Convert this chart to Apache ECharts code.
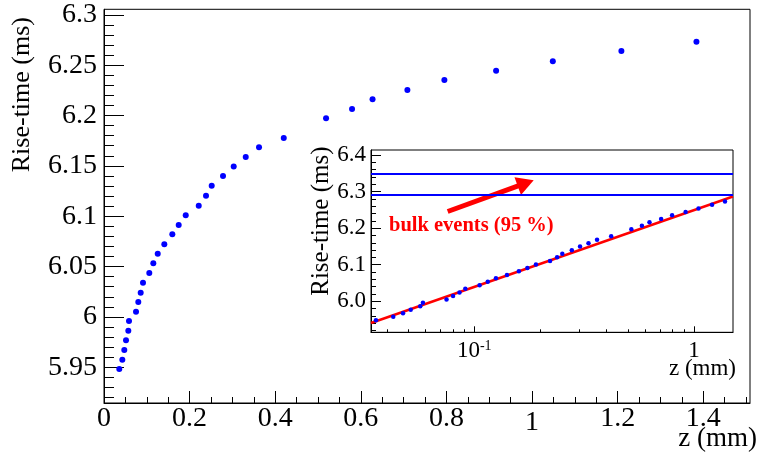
<!DOCTYPE html>
<html><head><meta charset="utf-8">
<script src="https://cdn.jsdelivr.net/npm/echarts@6/dist/echarts.min.js"></script>
<style>html,body{margin:0;padding:0;background:#fff}#c{width:758px;height:453px}</style>
</head><body><div id="c"></div>
<script>
// ---- data ----
const zValues = [0.0357,0.0428,0.0474,0.0514,0.0568,0.0584,0.0748,0.0801,0.0857,0.0911,0.1058,0.1152,0.1255,0.1409,0.1596,0.1745,0.1909,0.2213,0.2383,0.2516,0.2780,0.3030,0.3311,0.3621,0.4199,0.5187,0.5794,0.6273,0.7087,0.7951,0.9159,1.0484,1.2086,1.3839];
const riseTimes = [5.9483,5.9575,5.9672,5.9768,5.9863,5.9960,6.0052,6.0148,6.0240,6.0340,6.0436,6.0532,6.0628,6.0721,6.0820,6.0912,6.1009,6.1104,6.1203,6.1303,6.1399,6.1495,6.1587,6.1684,6.1776,6.1972,6.2064,6.2161,6.2253,6.2352,6.2444,6.2540,6.2640,6.2732];
const fitZ = [0.0339, 1.505];
const fitRise = [5.9405, 6.2866];
const bandLimits = [6.289, 6.354];
const arrowFrom = [0.0757, 6.2455];
const arrowTo = [0.1715, 6.323];
const annotationText = 'bulk events (95 %)';

const mainXTicks = [0,0.2,0.4,0.6,0.8,1,1.2,1.4];
const mainXMinorTicks = [0.05,0.1,0.15,0.25,0.3,0.35,0.45,0.5,0.55,0.65,0.7,0.75,0.85,0.9,0.95,1.05,1.1,1.15,1.25,1.3,1.35,1.45,1.5];
const mainYTicks = [5.95,6,6.05,6.1,6.15,6.2,6.25,6.3];
const mainYMinorTicks = [5.92,5.93,5.94,5.96,5.97,5.98,5.99,6.01,6.02,6.03,6.04,6.06,6.07,6.08,6.09,6.11,6.12,6.13,6.14,6.16,6.17,6.18,6.19,6.21,6.22,6.23,6.24,6.26,6.27,6.28,6.29];
const insetXTicks = [0.1, 1];
const insetXMinorTicks = [0.04,0.05,0.06,0.07,0.08,0.09,0.2,0.3,0.4,0.5,0.6,0.7,0.8,0.9];
const insetYTicks = [6.0,6.1,6.2,6.3,6.4];
const insetYMinorTicks = [5.92,5.94,5.96,5.98,6.02,6.04,6.06,6.08,6.12,6.14,6.16,6.18,6.22,6.24,6.26,6.28,6.32,6.34,6.36,6.38];

const mainXRange = [0, 1.509];
const mainYRange = [5.9145, 6.3055];
const insetXRange = [0.0339, 1.505];
const insetYRange = [5.9152, 6.4137];

// ---- styling ----
const serif = '"Liberation Serif", "Times New Roman", serif';
const black = '#000000';
const blue = '#0000ff';
const red = '#ff0000';

function axis(type, grid, range, pos, ticks, len, labels, labelOpt) {
  const a = {
    type: type, gridIndex: grid, min: range[0], max: range[1], position: pos,
    axisLine: {show: !!labels, onZero: false, lineStyle: {color: black, width: 1}},
    axisTick: {show: true, inside: true, length: len, customValues: ticks, lineStyle: {color: black, width: 1}},
    axisLabel: labels ? Object.assign({show: true, customValues: labels, color: black, fontFamily: serif}, labelOpt) : {show: false},
    splitLine: {show: false}, minorTick: {show: false}, silent: true
  };
  if (type === 'log') a.logBase = 10;
  return a;
}

const chart = echarts.init(document.getElementById('c'), null, {renderer: 'canvas'});
const option = {
  animation: false,
  backgroundColor: '#ffffff',
  grid: [
    {left: 104, right: 8, top: 9.3, bottom: 50, show: true, borderColor: black, borderWidth: 1, backgroundColor: 'transparent', containLabel: false, outerBoundsMode: 'none'},
    {left: 371, right: 25, top: 150, bottom: 120.7, show: true, borderColor: black, borderWidth: 1, backgroundColor: 'transparent', containLabel: false, outerBoundsMode: 'none'}
  ],
  xAxis: [
    axis('value', 0, mainXRange, 'bottom', mainXTicks, 12, mainXTicks, {
      fontSize: 28, margin: 2,
      formatter: v => (v === 1 ? '{o|1}' : String(v)),
      rich: {o: {fontSize: 28, fontFamily: serif, color: black, padding: [4, 0, 0, 0]}}
    }),
    axis('value', 0, mainXRange, 'bottom', mainXMinorTicks, 6, null),
    axis('log', 1, insetXRange, 'bottom', insetXTicks, 6, insetXTicks, {
      margin: 7,
      formatter: v => (Math.abs(v - 0.1) < 1e-9 ? '{b|10}{s|-1}' : '{b|1}'),
      rich: {
        b: {fontSize: 23, fontFamily: serif, color: black},
        s: {fontSize: 14, fontFamily: serif, color: black, verticalAlign: 'top'}
      }
    }),
    axis('log', 1, insetXRange, 'bottom', insetXMinorTicks, 3, null)
  ],
  yAxis: [
    axis('value', 0, mainYRange, 'left', mainYTicks, 20, mainYTicks, {fontSize: 28, margin: 7}),
    axis('value', 0, mainYRange, 'left', mainYMinorTicks, 10, null),
    axis('value', 1, insetYRange, 'left', insetYTicks, 10, insetYTicks, {fontSize: 23, margin: 5, formatter: v => v.toFixed(1)}),
    axis('value', 1, insetYRange, 'left', insetYMinorTicks, 5, null)
  ],
  series: [
    {
      name: 'main', type: 'scatter', xAxisIndex: 0, yAxisIndex: 0, silent: true,
      symbol: 'circle', symbolSize: 6, itemStyle: {color: blue, opacity: 1},
      data: zValues.map((z, i) => [z, riseTimes[i]]), z: 5
    },
    {
      name: 'fit', type: 'line', xAxisIndex: 2, yAxisIndex: 2, silent: true,
      showSymbol: false, symbol: 'none', clip: true,
      lineStyle: {color: red, width: 2.5, opacity: 1},
      data: fitZ.map((z, i) => [z, fitRise[i]]), z: 3,
      markLine: {
        silent: true, animation: false, label: {show: false},
        lineStyle: {color: red, width: 5, type: 'solid', opacity: 1},
        emphasis: {disabled: true},
        data: [[
          {coord: arrowFrom, symbol: 'none'},
          {coord: arrowTo, symbol: 'triangle', symbolSize: [19, 17]}
        ]]
      }
    },
    {
      name: 'inset', type: 'scatter', xAxisIndex: 2, yAxisIndex: 2, silent: true,
      symbol: 'circle', symbolSize: 4.5, itemStyle: {color: blue, opacity: 1},
      data: zValues.map((z, i) => [z, riseTimes[i]]), z: 5,
      markLine: {
        silent: true, animation: false, symbol: 'none', label: {show: false},
        lineStyle: {color: blue, width: 2.2, type: 'solid', opacity: 1},
        emphasis: {disabled: true},
        data: bandLimits.map(v => ({yAxis: v}))
      }
    }
  ],
  graphic: [
    {type: 'text', x: 22, y: 17, rotation: Math.PI / 2, silent: true,
     style: {text: 'Rise-time (ms)', align: 'right', verticalAlign: 'middle', font: '26px ' + serif, fill: black}},
    {type: 'text', x: 757, y: 439, silent: true,
     style: {text: 'z (mm)', align: 'right', verticalAlign: 'middle', font: '27px ' + serif, fill: black}},
    {type: 'text', x: 321.5, y: 146.5, rotation: Math.PI / 2, silent: true,
     style: {text: 'Rise-time (ms)', align: 'right', verticalAlign: 'middle', font: '25px ' + serif, fill: black}},
    {type: 'text', x: 736, y: 369, silent: true,
     style: {text: 'z (mm)', align: 'right', verticalAlign: 'middle', font: '23px ' + serif, fill: black}},
    {type: 'text', x: 389, y: 226, silent: true,
     style: {text: annotationText, align: 'left', verticalAlign: 'middle', font: 'bold 20.5px ' + serif, fill: red}}
  ]
};
chart.setOption(option);
</script>
</body></html>
